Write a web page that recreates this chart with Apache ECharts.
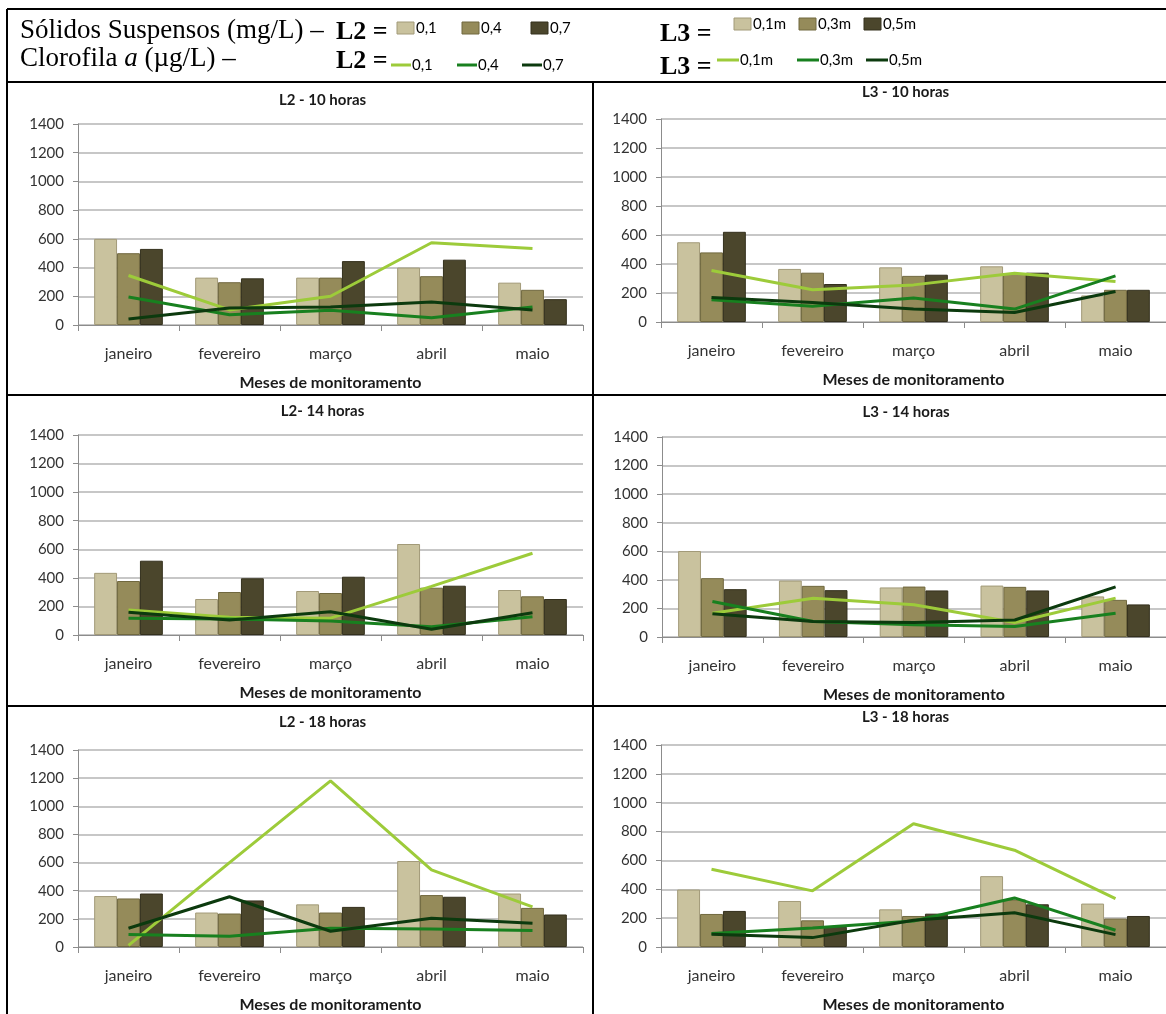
<!DOCTYPE html>
<html>
<head>
<meta charset="utf-8">
<script src="https://cdn.jsdelivr.net/npm/echarts@6/dist/echarts.min.js"></script>
<style>
  html, body { margin: 0; padding: 0; background: #ffffff; }
  #chart { width: 1166px; height: 1014px; }
</style>
</head>
<body>
<div id="chart"></div>
<script>
// Months on the category axis and value-axis range
const meses = ['janeiro', 'fevereiro', 'março', 'abril', 'maio'];
const yMin = 0, yMax = 1400, yStep = 200;

const nomesL2 = ['0,1', '0,4', '0,7'];
const nomesL3 = ['0,1m', '0,3m', '0,5m'];

// Sólidos suspensos (mg/L): one row per depth, one value per month
const ssL2_10h = [[600, 330, 330, 400, 295], [500, 298, 330, 340, 245], [530, 325, 445, 455, 180]];
const ssL3_10h = [[550, 366, 377, 384, 183], [480, 340, 318, 336, 222], [622, 262, 326, 340, 222]];
const ssL2_14h = [[435, 252, 308, 637, 315], [378, 301, 294, 331, 271], [520, 397, 408, 345, 252]];
const ssL3_14h = [[602, 395, 347, 360, 284], [412, 358, 353, 351, 260], [335, 328, 326, 326, 228]];
const ssL2_18h = [[362, 245, 303, 611, 380], [345, 238, 245, 369, 278], [380, 331, 285, 357, 231]];
const ssL3_18h = [[398, 319, 261, 491, 301], [229, 185, 215, 329, 197], [250, 140, 231, 296, 215]];

// Clorofila a (µg/L): one row per depth, one value per month
const clL2_10h = [[345, 105, 200, 573, 532], [195, 72, 102, 50, 125], [42, 118, 125, 160, 104]];
const clL3_10h = [[355, 222, 256, 336, 279], [153, 108, 165, 89, 318], [169, 135, 89, 66, 210]];
const clL2_14h = [[175, 124, 118, 340, 572], [117, 112, 98, 58, 128], [159, 105, 163, 40, 156]];
const clL3_14h = [[167, 272, 226, 102, 272], [249, 109, 86, 74, 167], [163, 109, 102, 119, 351]];
const clL2_18h = [[12, 600, 1180, 548, 285], [89, 77, 133, 128, 117], [133, 357, 112, 205, 168]];
const clL3_18h = [[539, 389, 854, 671, 335], [93, 132, 180, 340, 116], [88, 65, 185, 238, 86]];

const barFill   = ['#c9c29e', '#958b5a', '#4b462c'];
const barStroke = ['#a29a78', '#70683f', '#34301d'];
const lineColor = ['#9dcb3a', '#18801f', '#0c3a0e'];

const sans = 'Lato, "Open Sans", sans-serif';
const serif = '"Liberation Serif", "DejaVu Serif", serif';

// Six panels: two locations (columns) by three hours (rows)
const panels = [
  { title: 'L2 - 10 horas', ss: ssL2_10h, cl: clL2_10h, names: nomesL2, left: 78,  top: 124, width: 505, height: 201, titleY: 100 },
  { title: 'L3 - 10 horas', ss: ssL3_10h, cl: clL3_10h, names: nomesL3, left: 661, top: 119, width: 505, height: 203, titleY: 92 },
  { title: 'L2- 14 horas',  ss: ssL2_14h, cl: clL2_14h, names: nomesL2, left: 78,  top: 435, width: 505, height: 200, titleY: 411 },
  { title: 'L3 - 14 horas', ss: ssL3_14h, cl: clL3_14h, names: nomesL3, left: 662, top: 437, width: 504, height: 200, titleY: 412 },
  { title: 'L2 - 18 horas', ss: ssL2_18h, cl: clL2_18h, names: nomesL2, left: 78,  top: 750, width: 505, height: 200, titleY: 722 },
  { title: 'L3 - 18 horas', ss: ssL3_18h, cl: clL3_18h, names: nomesL3, left: 661, top: 745, width: 505, height: 202, titleY: 717 }
];

const grid = [], xAxis = [], yAxis = [], series = [], graphic = [];

panels.forEach((p, i) => {
  grid.push({ left: p.left, top: p.top, width: p.width, height: p.height, containLabel: false });
  xAxis.push({
    type: 'category', gridIndex: i, data: meses,
    name: 'Meses de monitoramento', nameLocation: 'middle', nameGap: 50,
    nameTextStyle: { fontFamily: sans, fontWeight: 'bold', fontSize: 16, color: '#1a1a1a' },
    axisLine: { lineStyle: { color: '#8c8c8c', width: 1 } },
    axisTick: { show: true, length: 6, lineStyle: { color: '#8c8c8c' } },
    axisLabel: { margin: 21, fontFamily: sans, fontSize: 16, color: '#333' },
    splitLine: { show: false }
  });
  yAxis.push({
    type: 'value', gridIndex: i, min: yMin, max: yMax, interval: yStep,
    axisLine: { show: true, lineStyle: { color: '#8c8c8c', width: 1 } },
    axisTick: { show: true, length: 5, lineStyle: { color: '#8c8c8c' } },
    axisLabel: { margin: 14, fontFamily: sans, fontSize: 15, color: '#333', formatter: v => String(v) },
    splitLine: { show: true, lineStyle: { color: '#b4b4b4', width: 1.5 } }
  });
  p.ss.forEach((vals, k) => {
    series.push({
      type: 'bar', name: p.names[k], xAxisIndex: i, yAxisIndex: i, data: vals,
      barGap: '0%', barCategoryGap: '32%',
      itemStyle: { color: barFill[k], borderColor: barStroke[k], borderWidth: 1 },
      z: 2, animation: false
    });
  });
  p.cl.forEach((vals, k) => {
    series.push({
      type: 'line', name: p.names[k], xAxisIndex: i, yAxisIndex: i, data: vals,
      symbol: 'none', lineStyle: { color: lineColor[k], width: 3 },
      itemStyle: { color: lineColor[k] }, z: 3, animation: false
    });
  });
  graphic.push({
    type: 'text', x: p.left + p.width / 2 - 8, y: p.titleY,
    style: { text: p.title, font: 'bold 15px ' + sans, fill: '#1a1a1a', align: 'center', verticalAlign: 'middle' }
  });
});

// Table rules around the header and the panels
const rule = (x1, y1, x2, y2) => ({
  type: 'line', shape: { x1, y1, x2, y2 }, style: { stroke: '#000', lineWidth: 2 }, z: 10
});
graphic.push(rule(7, 9, 1166, 9), rule(7, 9, 7, 1014), rule(7, 82, 1166, 82),
  rule(593, 82, 593, 1014), rule(7, 395, 1166, 395), rule(7, 706, 1166, 706));

// Header: legend keys for both variables
const txt = (x, y, text, font) => ({
  type: 'text', x, y, style: { text, font, fill: '#000', align: 'left', verticalAlign: 'middle' }
});
graphic.push(txt(20, 31, 'Sólidos Suspensos (mg/L) –', '27px ' + serif));
graphic.push({
  type: 'text', x: 20, y: 59,
  style: {
    text: '{n|Clorofila }{i|a}{n| (µg/L) –}', fill: '#000', align: 'left', verticalAlign: 'middle',
    rich: { n: { font: '27px ' + serif }, i: { font: 'italic 27px ' + serif } }
  }
});
graphic.push(txt(336, 32, 'L2 =', 'bold 26px ' + serif));
graphic.push(txt(336, 61, 'L2 =', 'bold 26px ' + serif));
graphic.push(txt(660, 34, 'L3 =', 'bold 26px ' + serif));
graphic.push(txt(660, 67, 'L3 =', 'bold 26px ' + serif));

const keyFont = '15px ' + sans;
const sqX2 = [397, 462, 531], sqX3 = [734, 799, 864];
const lnX2 = [391, 457, 522], lnX3 = [717, 797, 866];
for (let k = 0; k < 3; k++) {
  graphic.push({ type: 'rect', shape: { x: sqX2[k], y: 22, width: 17, height: 12 },
    style: { fill: barFill[k], stroke: barStroke[k], lineWidth: 1 } });
  graphic.push(txt(sqX2[k] + 19, 28, nomesL2[k], keyFont));
  graphic.push({ type: 'rect', shape: { x: sqX3[k], y: 18, width: 17, height: 12 },
    style: { fill: barFill[k], stroke: barStroke[k], lineWidth: 1 } });
  graphic.push(txt(sqX3[k] + 19, 24, nomesL3[k], keyFont));
  graphic.push({ type: 'line', shape: { x1: lnX2[k], y1: 65, x2: lnX2[k] + 20, y2: 65 },
    style: { stroke: lineColor[k], lineWidth: 3 } });
  graphic.push(txt(lnX2[k] + 21, 65, nomesL2[k], keyFont));
  graphic.push({ type: 'line', shape: { x1: lnX3[k], y1: 60, x2: lnX3[k] + 22, y2: 60 },
    style: { stroke: lineColor[k], lineWidth: 3 } });
  graphic.push(txt(lnX3[k] + 23, 60, nomesL3[k], keyFont));
}

const chart = echarts.init(document.getElementById('chart'), null, { renderer: 'canvas' });
chart.setOption({
  animation: false,
  backgroundColor: '#ffffff',
  grid, xAxis, yAxis, series, graphic
});
</script>
</body>
</html>
